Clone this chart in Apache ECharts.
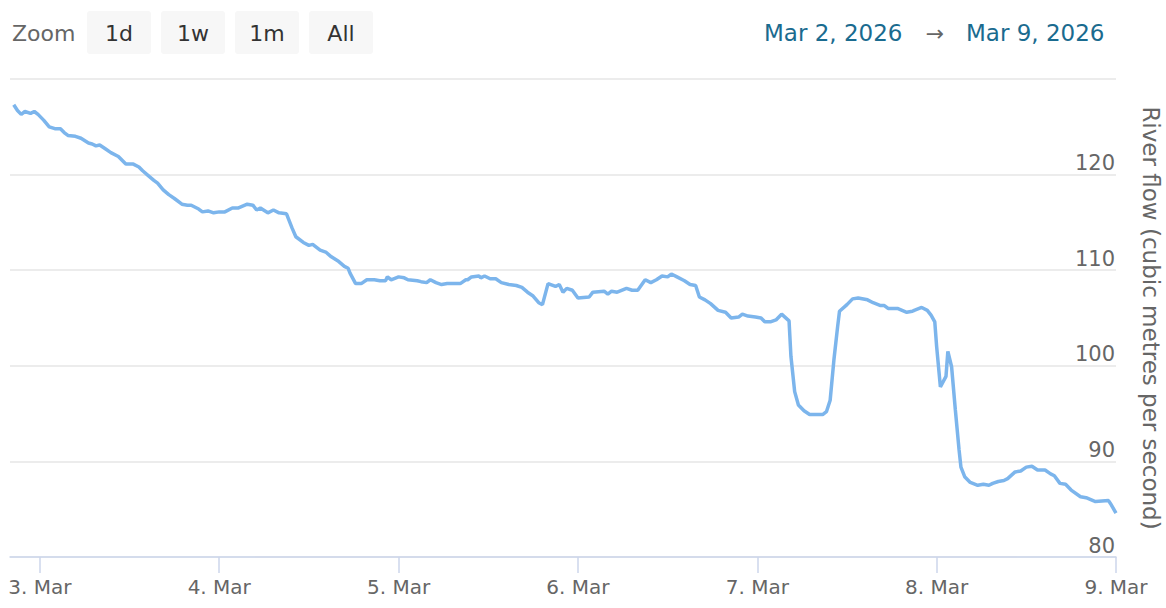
<!DOCTYPE html>
<html><head><meta charset="utf-8">
<script src="https://cdn.jsdelivr.net/npm/echarts@6/dist/echarts.min.js"></script>
<style>html,body{margin:0;padding:0;background:#fff}#c{width:1166px;height:608px}</style>
</head><body><div id="c"></div>
<script>
// Time stamps: "DD HH:MM" in March 2026 (UTC)
const times = [
'02 20:30','02 21:00','02 21:30','02 22:00','02 22:45','02 23:15','02 23:45',
'03 00:30','03 01:15','03 02:00','03 02:45','03 03:15','03 03:45','03 04:45','03 05:30','03 06:30','03 07:00','03 07:30','03 08:00','03 08:45','03 09:30','03 10:30','03 11:30','03 12:30','03 13:15','03 13:45','03 14:30','03 15:15','03 15:45','03 16:30','03 17:15','03 18:00','03 19:00','03 19:45','03 20:15','03 21:15','03 21:45','03 22:30','03 23:15',
'04 00:00','04 00:45','04 01:45','04 02:30','04 03:45','04 04:30','04 05:00','04 05:30','04 06:30','04 07:15','04 08:00','04 09:00','04 09:45','04 10:15','04 11:15','04 12:00','04 12:30','04 13:30','04 14:15','04 15:00','04 16:00','04 16:45','04 17:15','04 17:30','04 18:15','04 19:00','04 19:45','04 20:45','04 21:30','04 22:15','04 22:30','04 23:00',
'05 00:00','05 00:45','05 01:15','05 02:30','05 03:00','05 03:45','05 04:15','05 05:00','05 05:45','05 06:30','05 08:15','05 09:00','05 09:15','05 09:45','05 10:45','05 11:00','05 11:30','05 12:15','05 13:00','05 13:45','05 14:45','05 15:45','05 16:30','05 17:15','05 18:00','05 18:45','05 19:15','05 20:00','05 21:00','05 21:30','05 22:00','05 22:30','05 23:15',
'06 00:00','06 01:30','06 02:00','06 03:30','06 04:00','06 04:30','06 05:15','06 06:30','06 07:15','06 08:00','06 09:00','06 09:45','06 10:30','06 11:15','06 12:00','06 12:30','06 13:15','06 14:15','06 15:00','06 15:45','06 16:15','06 17:00','06 17:45','06 18:45','06 19:45','06 20:30','06 21:30','06 22:00','06 22:45','06 23:45',
'07 00:30','07 01:00','07 01:45','07 02:30','07 03:15','07 04:15','07 04:30','07 05:00','07 05:30','07 06:15','07 07:00','07 08:45','07 09:15','07 09:45','07 10:15','07 10:45','07 11:00','07 12:00','07 12:45','07 13:30','07 14:45','07 15:30','07 16:30','07 17:00','07 17:30','07 18:45','07 20:00','07 20:45','07 21:00','07 22:00','07 22:45','07 23:15','07 23:45',
'08 00:00','08 00:30','08 01:15','08 01:30','08 02:00','08 02:30','08 03:00','08 03:15','08 03:45','08 04:30','08 05:30','08 06:15','08 07:00','08 07:30','08 08:15','08 09:00','08 09:30','08 10:30','08 11:15','08 12:00','08 12:45','08 13:30','08 14:30','08 15:15','08 15:45','08 16:30','08 17:15','08 18:00','08 19:15','08 20:00','08 21:15','08 23:00','08 23:15',
'09 00:00'
];
// River flow, cubic metres per second
const flows = [
127.3,126.7,126.3,126.6,126.4,126.6,126.3,
125.7,125.0,124.8,124.8,124.4,124.1,124.0,123.8,123.3,123.2,123.0,123.1,122.7,122.3,121.9,121.1,121.1,120.8,120.4,119.9,119.4,119.1,118.4,117.9,117.5,116.9,116.8,116.8,116.4,116.1,116.2,116.0,
116.1,116.1,116.5,116.5,116.9,116.8,116.3,116.5,116.0,116.3,116.0,115.9,114.4,113.5,112.9,112.6,112.7,112.1,111.9,111.4,110.9,110.4,110.2,109.7,108.6,108.6,109.0,109.0,108.9,108.9,109.3,109.0,
109.3,109.2,109.0,108.9,108.8,108.7,109.0,108.7,108.5,108.6,108.6,109.0,109.0,109.3,109.4,109.2,109.4,109.1,109.1,108.7,108.5,108.4,108.2,107.7,107.3,106.6,106.4,108.6,108.3,108.5,107.7,108.1,107.9,
107.1,107.2,107.7,107.8,107.5,107.8,107.7,108.1,107.9,107.9,109.0,108.7,109.0,109.4,109.3,109.6,109.3,108.9,108.5,108.4,107.2,106.9,106.5,105.8,105.6,105.0,105.1,105.4,105.2,105.1,
105.0,104.6,104.6,104.8,105.4,104.7,101.0,97.3,95.9,95.3,94.9,94.9,95.2,96.4,100.6,104.1,105.7,106.4,107.0,107.1,106.9,106.6,106.3,106.3,106.0,106.0,105.6,105.7,105.8,106.1,105.8,105.3,104.6,
102.0,97.8,98.9,101.5,99.9,95.4,91.2,89.4,88.4,87.8,87.5,87.6,87.5,87.7,87.9,88.0,88.2,88.9,89.0,89.4,89.5,89.1,89.1,88.7,88.5,87.7,87.6,87.0,86.3,86.2,85.8,85.9,85.6,
84.6
];
const tickDays = [3,4,5,6,7,8,9];
const tickLabels = ['3. Mar','4. Mar','5. Mar','6. Mar','7. Mar','8. Mar','9. Mar'];
const yTicks = [80,90,100,110,120,130];
const zoomButtons = ['1d','1w','1m','All'];
const zoomTitle = 'Zoom';
const rangeFrom = 'Mar 2, 2026';
const rangeArrow = '\u2192';
const rangeTo = 'Mar 9, 2026';
const axisTitle = 'River flow (cubic metres per second)';

function toMs(s){ return Date.UTC(2026, 2, +s.slice(0,2), +s.slice(3,5), +s.slice(6,8)); }
const data = times.map((t,i)=>[toMs(t), flows[i]]);
const tickMs = tickDays.map(d=>Date.UTC(2026,2,d));
const FONT = '"DejaVu Sans", sans-serif';

const graphic = [
  {type:'text', x:12, y:33, style:{text:zoomTitle, fill:'#666', fontSize:22, fontFamily:FONT, align:'left', verticalAlign:'middle'}}
];
zoomButtons.forEach((b,i)=>{
  const x = 87 + i*74;
  graphic.push({type:'rect', shape:{x:x, y:11, width:64, height:43, r:3}, style:{fill:'#f7f7f7'}});
  graphic.push({type:'text', x:x+32, y:33, style:{text:b, fill:'#333', fontSize:22, fontFamily:FONT, align:'center', verticalAlign:'middle'}});
});
graphic.push({type:'text', x:764, y:33, style:{text:rangeFrom, fill:'#1a6b8f', fontSize:23, fontFamily:FONT, align:'left', verticalAlign:'middle'}});
graphic.push({type:'text', x:935, y:33, style:{text:rangeArrow, fill:'#666', fontSize:22, fontFamily:FONT, align:'center', verticalAlign:'middle'}});
graphic.push({type:'text', x:966, y:33, style:{text:rangeTo, fill:'#1a6b8f', fontSize:23, fontFamily:FONT, align:'left', verticalAlign:'middle'}});

const chart = echarts.init(document.getElementById('c'), null, {renderer:'svg'});
chart.setOption({
  animation:false,
  grid:{left:10, right:50, top:79, bottom:51, containLabel:false, outerBoundsMode:'none'},
  xAxis:{
    type:'value', min:Date.UTC(2026,2,2,20), max:Date.UTC(2026,2,9),
    axisLine:{show:true, lineStyle:{color:'#ccd6eb', width:1.5}},
    axisTick:{show:true, customValues:tickMs, length:16, lineStyle:{color:'#ccd6eb', width:1.5}},
    axisLabel:{customValues:tickMs, formatter:v=>{const i=tickMs.indexOf(+v); return i>=0?tickLabels[i]:'';}, color:'#666', fontSize:20, fontFamily:FONT, margin:20},
    splitLine:{show:false}
  },
  yAxis:{
    type:'value', position:'right', min:yTicks[0], max:yTicks[yTicks.length-1], interval:10,
    axisLine:{show:false}, axisTick:{show:false},
    splitLine:{lineStyle:{color:'#e6e6e6', width:1.5}},
    axisLabel:{inside:true, margin:1, verticalAlign:'bottom', color:'#666', fontSize:21, fontFamily:FONT, showMaxLabel:false, padding:[0,0,1,0]},
    name:axisTitle, nameLocation:'middle', nameRotate:-90, nameGap:23,
    nameTextStyle:{color:'#666', fontSize:23, fontFamily:FONT}
  },
  series:[{type:'line', data:data, showSymbol:false, symbol:'none', lineStyle:{color:'#7cb5ec', width:3.5}, itemStyle:{color:'#7cb5ec'}}],
  graphic:graphic
});
</script></body></html>
